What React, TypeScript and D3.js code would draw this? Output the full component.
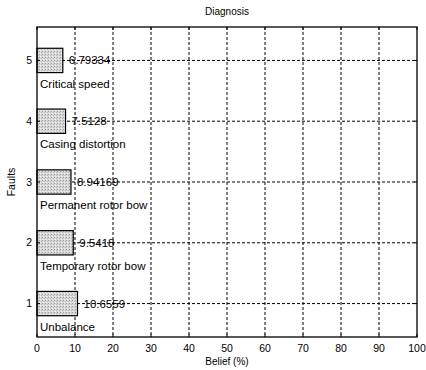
import React from "react";
import * as d3 from "d3";

const width = 426;
const height = 370;
const margin = { top: 27, right: 9, bottom: 33, left: 37 };

const faults = [1, 2, 3, 4, 5];
const faultNames = ["Unbalance", "Temporary rotor bow", "Permanent rotor bow", "Casing distortion", "Critical speed"];
const beliefs = [10.6559, 9.5418, 8.94169, 7.5128, 6.79334];
const beliefLabels = ["10.6559", "9.5418", "8.94169", "7.5128", "6.79334"];
const xTicks = [0, 10, 20, 30, 40, 50, 60, 70, 80, 90, 100];

const font = "'Liberation Sans', Arial, sans-serif";

const App = () => {
  const x = d3
    .scaleLinear()
    .domain([0, 100])
    .range([margin.left, width - margin.right]);
  const y = d3
    .scaleLinear()
    .domain([0.45, 5.55])
    .range([height - margin.bottom, margin.top]);

  const barHalf = 0.2; // bar thickness in category units
  const x0 = x(0);
  const x1 = x(100);
  const yTop = y(5.55);
  const yBot = y(0.45);

  return (
    <div style={{ position: "absolute", left: 0, top: 0 }}>
      <svg width={width} height={height} style={{ display: "block", background: "#fff" }}>
        <defs>
          <pattern id="speckle" width="3" height="3" patternUnits="userSpaceOnUse">
            <rect width="3" height="3" fill="#d9d9d9" />
            <rect x="0" y="0" width="1" height="1" fill="#9a9a9a" />
            <rect x="2" y="1" width="1" height="1" fill="#b5b5b5" />
            <rect x="1" y="2" width="1" height="1" fill="#f2f2f2" />
          </pattern>
        </defs>

        {/* dotted grid */}
        <g stroke="#000" strokeWidth={1} strokeDasharray="3,2" fill="none">
          {xTicks.slice(1, -1).map((t) => (
            <line key={"gx" + t} x1={x(t)} x2={x(t)} y1={yTop} y2={yBot} />
          ))}
          {faults.map((f) => (
            <line key={"gy" + f} x1={x0} x2={x1} y1={y(f)} y2={y(f)} />
          ))}
        </g>

        {/* bars */}
        {faults.map((f, i) => (
          <rect
            key={"b" + f}
            x={x0}
            y={y(f + barHalf)}
            width={x(beliefs[i]) - x0}
            height={y(f - barHalf) - y(f + barHalf)}
            fill="url(#speckle)"
            stroke="#000"
            strokeWidth={1.2}
          />
        ))}

        {/* value labels */}
        {faults.map((f, i) => (
          <text
            key={"v" + f}
            x={x(beliefs[i]) + 6}
            y={y(f)}
            dy="0.35em"
            fontFamily={font}
            fontSize={11.5}
            fill="#000"
          >
            {beliefLabels[i]}
          </text>
        ))}

        {/* name labels */}
        {faults.map((f, i) => (
          <text
            key={"n" + f}
            x={x(0) + 3}
            y={y(f - 0.38)}
            dy="0.35em"
            fontFamily={font}
            fontSize={11.5}
            fill="#000"
          >
            {faultNames[i]}
          </text>
        ))}

        {/* box */}
        <rect x={x0} y={yTop} width={x1 - x0} height={yBot - yTop} fill="none" stroke="#000" strokeWidth={1.3} />

        {/* ticks */}
        <g stroke="#000" strokeWidth={1}>
          {xTicks.map((t) => (
            <React.Fragment key={"tx" + t}>
              <line x1={x(t)} x2={x(t)} y1={yBot} y2={yBot - 3} />
              <line x1={x(t)} x2={x(t)} y1={yTop} y2={yTop + 3} />
            </React.Fragment>
          ))}
          {faults.map((f) => (
            <React.Fragment key={"ty" + f}>
              <line x1={x0} x2={x0 + 3} y1={y(f)} y2={y(f)} />
              <line x1={x1} x2={x1 - 3} y1={y(f)} y2={y(f)} />
            </React.Fragment>
          ))}
        </g>

        {/* tick labels */}
        {xTicks.map((t) => (
          <text key={"lx" + t} x={x(t)} y={yBot + 15} textAnchor="middle" fontFamily={font} fontSize={10.5}>
            {t}
          </text>
        ))}
        {faults.map((f) => (
          <text key={"ly" + f} x={x0 - 5} y={y(f)} dy="0.35em" textAnchor="end" fontFamily={font} fontSize={10.5}>
            {f}
          </text>
        ))}

        {/* titles */}
        <text x={(x0 + x1) / 2} y={15} textAnchor="middle" fontFamily={font} fontSize={10}>
          Diagnosis
        </text>
        <text x={(x0 + x1) / 2} y={height - 5} textAnchor="middle" fontFamily={font} fontSize={10}>
          Belief (%)
        </text>
        <text
          transform={`translate(15,${(yTop + yBot) / 2}) rotate(-90)`}
          textAnchor="middle"
          fontFamily={font}
          fontSize={10.5}
        >
          Faults
        </text>
      </svg>
    </div>
  );
};

export default App;
